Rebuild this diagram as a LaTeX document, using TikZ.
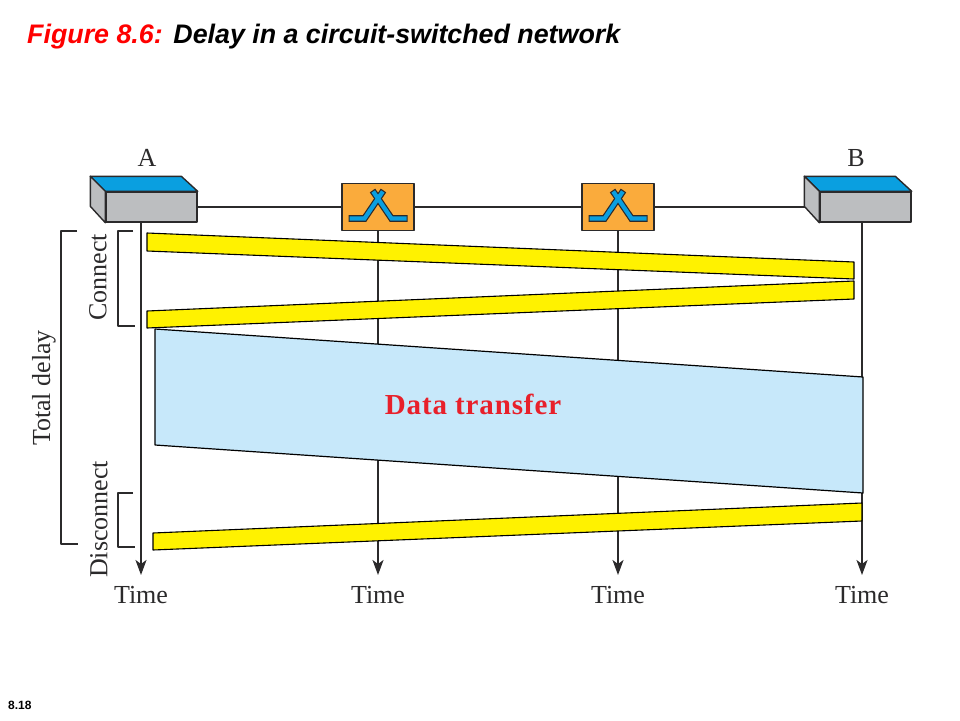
\documentclass[tikz,border=0pt]{standalone}
\usepackage{fontspec}
\setmainfont{Liberation Serif}
\newfontfamily\arialfont{Liberation Sans}
\usetikzlibrary{arrows.meta}
\definecolor{inkline}{HTML}{2B2A2B}
\definecolor{topblue}{HTML}{0A9FE0}
\definecolor{boxgrey}{HTML}{BCBEC0}
\definecolor{swtorange}{HTML}{FAAB3C}
\definecolor{sigyellow}{HTML}{FFF200}
\definecolor{datablue}{HTML}{C7E8FA}
\definecolor{datared}{HTML}{E8202A}
\begin{document}
\begin{tikzpicture}[x=1pt,y=-1pt,line join=round,
    host/.style={draw=inkline,line width=1.4pt,fill=boxgrey,minimum width=91pt,minimum height=30pt,inner sep=0pt},
    swt/.style={draw=inkline,line width=1.4pt,fill=swtorange,minimum width=72pt,minimum height=47pt,inner sep=0pt},
    wire/.style={draw=inkline,line width=1.7pt},
    tline/.style={wire,-{Stealth[length=15pt,width=11pt,inset=4pt]}},
    sig/.style={draw=black,line width=1.1pt,fill=sigyellow},
    brk/.style={draw=inkline,line width=1.2pt},
    lbl/.style={text=inkline,font=\fontsize{26}{28}\selectfont,inner sep=0pt}]
  \useasboundingbox (0,0) rectangle (960,720);

  \node[anchor=west,inner sep=0pt,font=\arialfont\bfseries\itshape\fontsize{26.8}{30}\selectfont] (title) at (27,37)
    {\textcolor{red}{Figure 8.6:}\hspace{.4em}Delay in a circuit-switched network};
  \node[anchor=west,inner sep=0pt,font=\arialfont\bfseries\fontsize{12}{14}\selectfont] (pageno) at (8,705) {8.18};

  % stations along the top
  \coordinate (backb) at (805,207);
  \node[swt] (swa) at (378,207) {};
  \node[swt] (swb) at (618,207) {};
  \node[host] (hosta) at (151.5,207) {};
  \node[host] (hostb) at (865.5,207) {};
  \node[lbl] (namea) at (147,158) {A};
  \node[lbl] (nameb) at (856,158) {B};

  \foreach \h in {hosta,hostb} {
    \draw[draw=inkline,line width=1.4pt,fill=topblue] (\h.north west) -- +(-15,-15) -- +(76,-15) -- (\h.north east) -- cycle;
    \draw[draw=inkline,line width=1.4pt,fill=boxgrey] (\h.north west) -- +(-15,-15) -- +(-15,15) -- (\h.south west) -- cycle;
  }
  \foreach \s in {swa,swb} {
    \foreach \d in {-1,1} {
      \draw[draw=inkline,line width=6.6pt,line join=miter] ([shift={(\d*29.5,11.5)}]\s.center) -- ([shift={(\d*13.5,11.5)}]\s.center) -- ([shift={(-\d*5.5,-16.5)}]\s.center);
    }
    \foreach \d in {-1,1} {
      \draw[draw=topblue,line width=4.2pt,line join=miter] ([shift={(\d*28.5,11.5)}]\s.center) -- ([shift={(\d*13.5,11.5)}]\s.center) -- ([shift={(-\d*4.8,-15.5)}]\s.center);
    }
  }
  \draw[wire] (hosta.east) -- (swa.west);
  \draw[wire] (swa.east) -- (swb.west);
  \draw[wire] (swb.east) -- (backb);

  % time axes
  \node[lbl] (timea) at (141,595) {Time};
  \node[lbl] (timeb) at (378,595) {Time};
  \node[lbl] (timec) at (618,595) {Time};
  \node[lbl] (timed) at (862,595) {Time};
  \coordinate (enda) at (141,575);
  \coordinate (endb) at (378,575);
  \coordinate (endc) at (618,575);
  \coordinate (endd) at (862,575);
  \coordinate (starta) at (141,222);
  \coordinate (startd) at (862,222);
  \draw[tline] (starta) -- (enda);
  \draw[tline] (swa.south) -- (endb);
  \draw[tline] (swb.south) -- (endc);
  \draw[tline] (startd) -- (endd);

  % signals
  \draw[sig] (147,233) -- (854,262) -- (854,279) -- (147,251) -- cycle;
  \draw[sig] (147,311) -- (854,281) -- (854,299) -- (147,328) -- cycle;
  \draw[sig] (153,533) -- (862,503) -- (862,521) -- (153,550) -- cycle;
  \draw[draw=black,line width=1.2pt,fill=datablue] (155,329) -- (863,377) -- (863,493) -- (155,445) -- cycle;
  \node[font=\bfseries\fontsize{29}{30}\selectfont,text=datared,inner sep=0pt] (datatxt) at (473,404) {\addfontfeature{LetterSpace=3}Data transfer};

  % brackets and their labels
  \draw[brk] (133,231) -- (118,231) -- (118,326) -- (135,326);
  \draw[brk] (133,493) -- (118,493) -- (118,547) -- (135,547);
  \draw[brk] (77,231) -- (61,231) -- (61,544) -- (78,544);
  \node[lbl,rotate=90] (connect) at (98,277.5) {Connect};
  \node[lbl,rotate=90] (disconnect) at (99,519.5) {Disconnect};
  \node[lbl,rotate=90] (total) at (44,388) {Total delay};
\end{tikzpicture}
\end{document}
